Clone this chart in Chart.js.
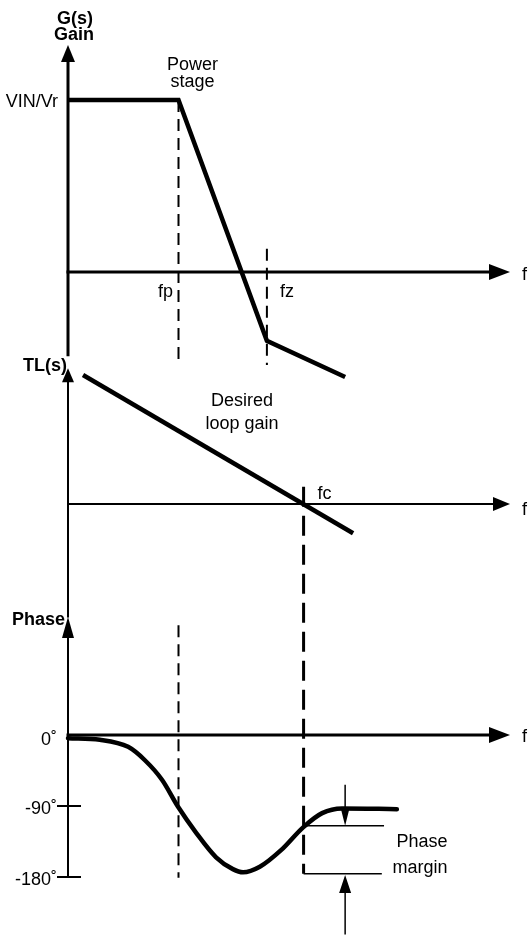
<!DOCTYPE html>
<html><head><meta charset="utf-8">
<script src="https://cdn.jsdelivr.net/npm/chart.js@4/dist/chart.umd.min.js"></script>
<style>html,body{margin:0;padding:0;background:#fff;}#wrap{position:relative;width:531px;height:935px;}canvas{display:block;}</style>
</head><body><div id="wrap"><canvas id="c" width="531" height="935"></canvas></div>
<script>
// ---- data (frequency in log-frequency units along the f axis) ----
const fAxisMax = 10;
const fp = 2.5, fz = 4.5, fc = 5.33;
// G(s) power-stage gain asymptotes (dB)
const gainFreq = [0, 2.5, 4.5, 6.27];
const gainDb   = [20, 20, -8, -12.2];
// Desired loop gain TL(s) (dB)
const loopFreq = [0.34, 6.45];
const loopDb   = [15, -3.4];
// Phase of the loop (degrees)
const phaseFreq = [0, 0.72, 1.36, 1.74, 2.13, 2.49, 2.90, 3.35, 3.73, 3.96, 4.34, 4.82, 5.32, 5.75, 6.20, 7.44];
const phaseDeg  = [-4, -6, -15, -32, -57, -91, -124, -155, -170, -174, -167, -146, -117, -99, -93, -94];
const phaseTicks = [0, -90, -180];
const phaseTickLabels = ['0˚', '-90˚', '-180˚'];
const phaseAtFc = -115;      // phase at crossover
const phaseRef = -176;       // reference level for margin

const pts = (xs, ys) => xs.map((v, i) => ({x: v, y: ys[i]}));
const FONT = '"Liberation Sans", Arial, sans-serif';

function arrow(ctx, x1, y1, x2, y2, len, hw, lw) {
  const a = Math.atan2(y2 - y1, x2 - x1);
  const c = Math.cos(a), s = Math.sin(a);
  const bx = x2 - len * c, by = y2 - len * s;
  ctx.lineWidth = lw;
  ctx.setLineDash([]);
  ctx.beginPath(); ctx.moveTo(x1, y1); ctx.lineTo(bx + c, by + s); ctx.stroke();
  ctx.beginPath();
  ctx.moveTo(x2, y2);
  ctx.lineTo(bx + hw * s, by - hw * c);
  ctx.lineTo(bx - hw * s, by + hw * c);
  ctx.closePath(); ctx.fill();
}
function txt(ctx, s, x, y, align, bold) {
  ctx.font = (bold ? 'bold ' : '') + '18px ' + FONT;
  ctx.textAlign = align; ctx.textBaseline = 'alphabetic';
  ctx.fillText(s, x, y);
}

const diagram = {
  id: 'diagram',
  afterDatasetsDraw(chart) {
    const {ctx, scales} = chart;
    const X = v => scales.x.getPixelForValue(v);
    const G = v => scales.g.getPixelForValue(v);
    const T = v => scales.tl.getPixelForValue(v);
    const P = v => scales.ph.getPixelForValue(v);
    ctx.save();
    ctx.fillStyle = '#000'; ctx.strokeStyle = '#000';
    ctx.lineCap = 'butt';
    // G(s) axes
    arrow(ctx, X(0), G(-9.8), X(0), G(26.4), 17, 7, 3);
    arrow(ctx, X(0) - 1.5, G(0), X(fAxisMax), G(0), 21, 8, 3);
    // TL(s) axes
    arrow(ctx, X(0), T(-13.2), X(0), T(15.8), 14, 6, 2);
    arrow(ctx, X(0) - 1, T(0), X(fAxisMax), T(0), 17, 7, 2);
    // Phase axes
    arrow(ctx, X(0), P(-181), X(0), P(149.6), 21, 6, 2);
    arrow(ctx, X(0) - 1.5, P(0), X(fAxisMax), P(0), 21, 8, 3);
    // phase ticks
    ctx.lineWidth = 2;
    phaseTicks.forEach((t, i) => {
      if (t === 0) return;
      ctx.beginPath(); ctx.moveTo(X(0) - 11, P(t)); ctx.lineTo(X(0) + 13, P(t)); ctx.stroke();
    });
    // crossover dashed line through TL and phase panels
    ctx.lineWidth = 3; ctx.setLineDash([20, 9]);
    ctx.beginPath(); ctx.moveTo(X(fc), T(2)); ctx.lineTo(X(fc), P(phaseRef)); ctx.stroke();
    ctx.setLineDash([]);
    // phase margin arrows
    const xm = X(6.27);
    arrow(ctx, xm, P(-63), xm, P(phaseAtFc), 18, 4.5, 1.5);
    arrow(ctx, xm, P(-253), xm, P(phaseRef - 1.5), 18, 6, 1.5);
    // texts
    txt(ctx, 'G(s)', X(0) + 7, G(26.4) - 21, 'center', true);
    txt(ctx, 'Gain', X(0) + 6, G(26.4) - 5, 'center', true);
    txt(ctx, 'VIN/Vr', X(0) - 10, G(20) + 7, 'right', false);
    txt(ctx, 'Power', X(fp) + 14, G(20) - 30, 'center', false);
    txt(ctx, 'stage', X(fp) + 14, G(20) - 13, 'center', false);
    txt(ctx, 'fp', X(fp) - 13, G(0) + 25, 'center', false);
    txt(ctx, 'fz', X(fz) + 20, G(0) + 25, 'center', false);
    txt(ctx, 'f', X(fAxisMax) + 12, G(0) + 8, 'left', false);
    txt(ctx, 'TL(s)', X(0) - 1, T(15.8) + 3, 'right', true);
    txt(ctx, 'Desired', 242, T(11.4), 'center', false);
    txt(ctx, 'loop gain', 242, T(8.7), 'center', false);
    txt(ctx, 'fc', X(fc) + 14, T(0) - 5, 'left', false);
    txt(ctx, 'f', X(fAxisMax) + 12, T(0) + 11, 'left', false);
    txt(ctx, 'Phase', X(0) - 3, P(139), 'right', true);
    phaseTicks.forEach((t, i) => txt(ctx, phaseTickLabels[i], X(0) - 11, P(t) + (t === 0 ? 10 : 8), 'right', false));
    txt(ctx, 'f', X(fAxisMax) + 12, P(0) + 7, 'left', false);
    txt(ctx, 'Phase', 422, P(-142), 'center', false);
    txt(ctx, 'margin', 420, P(-175), 'center', false);
    ctx.restore();
  }
};

const line = (data, yAxisID, w, extra) => Object.assign({
  data, yAxisID, xAxisID: 'x', borderColor: '#000', backgroundColor: '#000',
  borderWidth: w, pointRadius: 0, fill: false, tension: 0, clip: false,
  borderJoinStyle: 'miter'
}, extra || {});

new Chart(document.getElementById('c'), {
  type: 'line',
  data: {
    datasets: [
      line(pts(gainFreq, gainDb), 'g', 4.5),
      line(pts([fp, fp], [20, -10.2]), 'g', 2, {borderDash: [12, 7]}),
      line(pts([fz, fz], [2.7, -10.8]), 'g', 2, {borderDash: [12, 7]}),
      line(pts(loopFreq, loopDb), 'tl', 4.5),
      line(pts(phaseFreq, phaseDeg), 'ph', 4.5, {cubicInterpolationMode: 'monotone', borderCapStyle: 'round', borderJoinStyle: 'round'}),
      line(pts([fp, fp], [139, -181]), 'ph', 2, {borderDash: [12, 7]}),
      line(pts([fc, 7.15], [phaseAtFc, phaseAtFc]), 'ph', 1.5),
      line(pts([fc, 7.1], [phaseRef, phaseRef]), 'ph', 1.5)
    ]
  },
  options: {
    responsive: false, animation: false, devicePixelRatio: 1,
    layout: {padding: {left: 68, right: 21, top: 0, bottom: 0}},
    plugins: {legend: {display: false}, tooltip: {enabled: false}},
    events: [],
    scales: {
      x: {type: 'linear', min: 0, max: fAxisMax, display: false},
      g: {type: 'linear', position: 'left', min: -77.09, max: 31.63, display: false},
      tl: {type: 'linear', position: 'left', min: -50.1, max: 58.6, display: false},
      ph: {type: 'linear', position: 'left', min: -253.5, max: 931.7, display: false}
    }
  },
  plugins: [diagram]
});
</script>
</body></html>
